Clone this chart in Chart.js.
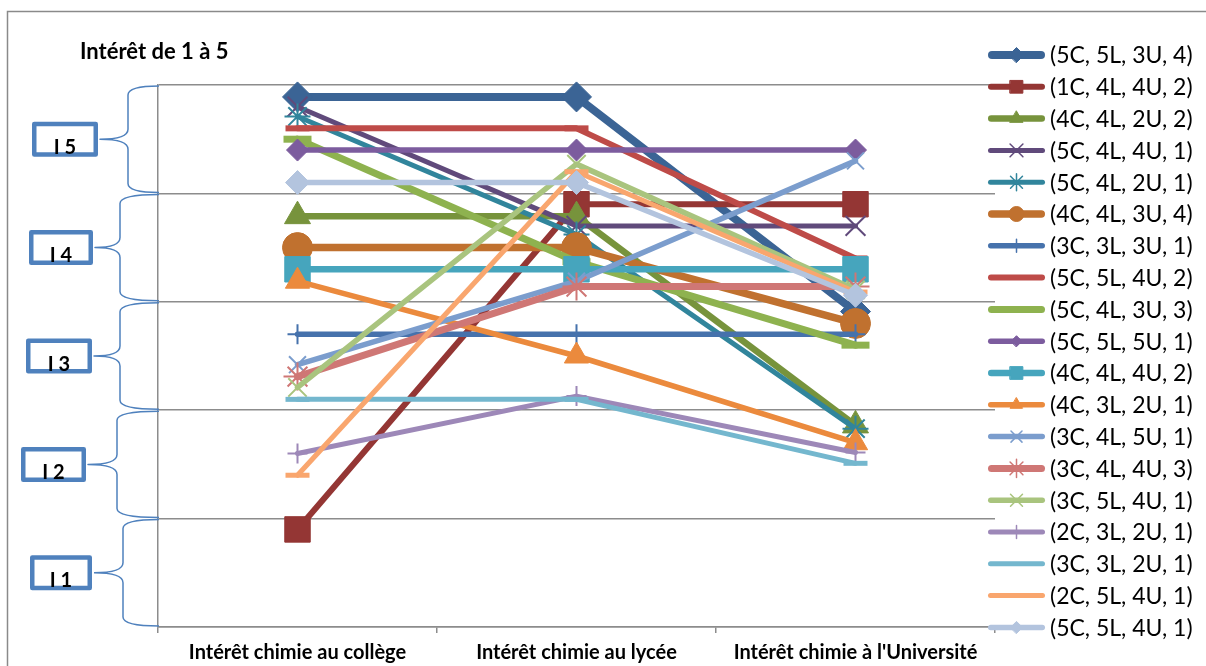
<!DOCTYPE html>
<html><head><meta charset="utf-8">
<script src="https://cdn.jsdelivr.net/npm/chart.js@4.4.1/dist/chart.umd.min.js"></script>
<style>html,body{margin:0;padding:0;background:#fff;overflow:hidden}canvas{display:block}</style>
</head><body>
<canvas id="c" width="1206" height="666"></canvas>
<script>
// ---- data ----
const chartTitle = "Intérêt de 1 à 5";
const categories = ["Intérêt chimie au collège", "Intérêt chimie au lycée", "Intérêt chimie à l'Université"];
const bandLabels = ["I 1", "I 2", "I 3", "I 4", "I 5"];
const seriesNames = ["(5C, 5L, 3U, 4)","(1C, 4L, 4U, 2)","(4C, 4L, 2U, 2)","(5C, 4L, 4U, 1)","(5C, 4L, 2U, 1)","(4C, 4L, 3U, 4)","(3C, 3L, 3U, 1)","(5C, 5L, 4U, 2)","(5C, 4L, 3U, 3)","(5C, 5L, 5U, 1)","(4C, 4L, 4U, 2)","(4C, 3L, 2U, 1)","(3C, 4L, 5U, 1)","(3C, 4L, 4U, 3)","(3C, 5L, 4U, 1)","(2C, 3L, 2U, 1)","(3C, 3L, 2U, 1)","(2C, 5L, 4U, 1)","(5C, 5L, 4U, 1)"];
const collegeValues    = [4.89, 0.90, 3.79, 4.80, 4.71, 3.50, 2.70, 4.60, 4.50, 4.40, 3.30, 3.19, 2.42, 2.31, 2.21, 1.60, 2.10, 1.40, 4.10];
const lyceeValues      = [4.89, 3.90, 3.79, 3.70, 3.62, 3.50, 2.70, 4.60, 3.37, 4.40, 3.30, 2.50, 3.19, 3.14, 4.27, 2.13, 2.10, 4.20, 4.10];
const universiteValues = [2.91, 3.90, 1.86, 3.70, 1.83, 2.80, 2.70, 3.40, 2.60, 4.40, 3.30, 1.70, 4.30, 3.14, 3.11, 1.61, 1.51, 3.09, 3.06];
const yMin = 0, yMax = 5, yStep = 1;

// ---- styles ----
const colors = ["#3B6495","#943634","#77933C","#604A7B","#31859C","#C0712F","#4672AC","#BE4B48","#8EB24F","#7C5C9E","#46A5BD","#EB8A3D","#7B9DCD","#CF7775","#A9C47E","#9D88B8","#74B7CE","#F9A66E","#B3C4DE"];
const markerStyles = ["rectRot","rect","triangle","crossRot","star","circle","cross","line","line","rectRot","rect","triangle","crossRot","star","crossRot","cross","line","line","rectRot"];
const markerRadii = [15,18,15,14,13,15,10,12,14,11,18,14,12,14,13,10,12,12,12];
const lineWidths = [8,6,6.5,5,5,7.5,5.5,6,7,5.5,6.5,5.5,5.5,7,5.5,5,5,5,5.5];
const filledStyles = ["rectRot","rect","triangle","circle"];
const gridColor = "#8c8c8c";
const braceColor = "#4F81BD";
const bandLayout = [ // box left, box right, brace vertical x
  [30, 92, 123], [21, 86, 117], [26, 92, 120], [29, 93, 120], [32, 98, 128]
];

const datasets = seriesNames.map((name, i) => {
  const filled = filledStyles.includes(markerStyles[i]);
  return {
    label: name,
    data: [collegeValues[i], lyceeValues[i], universiteValues[i]],
    borderColor: colors[i],
    backgroundColor: colors[i],
    borderWidth: lineWidths[i],
    borderCapStyle: 'round',
    borderJoinStyle: 'round',
    tension: 0,
    pointStyle: markerStyles[i],
    pointRadius: markerRadii[i],
    pointHoverRadius: markerRadii[i],
    pointBackgroundColor: colors[i],
    pointBorderColor: colors[i],
    pointBorderWidth: markerStyles[i] === 'line' ? lineWidths[i] : (filled ? 1 : 2),
    order: seriesNames.length - i,
    clip: false
  };
});

function fallbackPoint(ctx, style, r, x, y) {
  ctx.beginPath();
  if (style === 'circle') { ctx.arc(x, y, r, 0, Math.PI * 2); ctx.fill(); }
  else if (style === 'rect') { const s = r * Math.SQRT1_2; ctx.fillRect(x - s, y - s, 2 * s, 2 * s); }
  else if (style === 'rectRot') { ctx.moveTo(x, y - r); ctx.lineTo(x + r, y); ctx.lineTo(x, y + r); ctx.lineTo(x - r, y); ctx.closePath(); ctx.fill(); }
  else if (style === 'triangle') { ctx.moveTo(x, y - r); ctx.lineTo(x + r * 0.866, y + r / 2); ctx.lineTo(x - r * 0.866, y + r / 2); ctx.closePath(); ctx.fill(); }
  else {
    const d = r * Math.SQRT1_2;
    if (style === 'cross' || style === 'star') { ctx.moveTo(x - r, y); ctx.lineTo(x + r, y); ctx.moveTo(x, y - r); ctx.lineTo(x, y + r); }
    if (style === 'crossRot' || style === 'star') { ctx.moveTo(x - d, y - d); ctx.lineTo(x + d, y + d); ctx.moveTo(x + d, y - d); ctx.lineTo(x - d, y + d); }
    ctx.stroke();
  }
}

const decorPlugin = {
  id: 'decor',
  beforeDraw(chart) {
    const ctx = chart.ctx;
    ctx.save();
    ctx.fillStyle = '#fff';
    ctx.fillRect(0, 0, chart.width, chart.height);
    ctx.strokeStyle = '#8a8a8a';
    ctx.lineWidth = 1.5;
    ctx.strokeRect(7.5, 11.5, 1260, 720);
    ctx.fillStyle = '#000';
    ctx.font = 'bold 22px Lato';
    ctx.textBaseline = 'alphabetic';
    ctx.fillText(chartTitle, 80, 59);
    ctx.restore();
  },
  afterDraw(chart) {
    const ctx = chart.ctx;
    const ys = chart.scales.y;
    const xR = chart.chartArea.left;
    ctx.save();
    // braces and boxes
    bandLabels.forEach((lab, i) => {
      const yTop = ys.getPixelForValue(i + 1);
      const yBot = ys.getPixelForValue(i);
      const mid = (yTop + yBot) / 2;
      const [bl, br, xv] = bandLayout[i];
      const xTip = br + 2, r = 10;
      ctx.strokeStyle = braceColor;
      ctx.lineWidth = 1.5;
      ctx.beginPath();
      ctx.moveTo(xR + 1, yTop + 1);
      ctx.quadraticCurveTo(xv, yTop + 1, xv, yTop + r);
      ctx.lineTo(xv, mid - r);
      ctx.quadraticCurveTo(xv, mid, xTip, mid);
      ctx.quadraticCurveTo(xv, mid, xv, mid + r);
      ctx.lineTo(xv, yBot - r);
      ctx.quadraticCurveTo(xv, yBot - 1, xR + 1, yBot - 1);
      ctx.stroke();
      // box
      const bh = 35;
      ctx.lineWidth = 4.5;
      ctx.lineJoin = 'round';
      ctx.fillStyle = '#fff';
      ctx.fillRect(bl, mid - bh / 2, br - bl, bh);
      ctx.strokeRect(bl + 2.25, mid - bh / 2 + 2.25, br - bl - 4.5, bh - 4.5);
      ctx.fillStyle = '#000';
      ctx.font = 'bold 20px Lato';
      ctx.textAlign = 'center';
      ctx.textBaseline = 'alphabetic';
      ctx.fillText(lab, (bl + br) / 2, mid + bh / 2 - 3);
    });
    // legend
    const top = 55, step = 31.8, x0 = 988, x1 = 1045, tx = 1050;
    const H = Chart.helpers;
    chart.data.datasets.forEach((d, i) => {
      const y = top + i * step;
      ctx.save();
      ctx.strokeStyle = d.borderColor;
      ctx.lineWidth = d.borderWidth;
      ctx.lineCap = 'round';
      ctx.beginPath();
      ctx.moveTo(x0 + d.borderWidth / 2, y);
      ctx.lineTo(x1 - d.borderWidth / 2, y);
      ctx.stroke();
      if (d.pointStyle !== 'line') {
        const filled = filledStyles.includes(d.pointStyle);
        const r = d.pointRadius * (filled ? 0.5 : 0.65);
        ctx.fillStyle = d.pointBackgroundColor;
        ctx.strokeStyle = d.pointBorderColor;
        ctx.lineWidth = filled ? 1 : 1.5;
        if (H && H.drawPoint) {
          H.drawPoint(ctx, { pointStyle: d.pointStyle, radius: r, rotation: 0, borderWidth: ctx.lineWidth }, (x0 + x1) / 2, y);
        } else {
          fallbackPoint(ctx, d.pointStyle, r, (x0 + x1) / 2, y);
        }
      }
      ctx.fillStyle = '#000';
      ctx.font = '23px Lato';
      ctx.textAlign = 'left';
      ctx.textBaseline = 'middle';
      ctx.fillText(d.label, tx, y + 1);
      ctx.restore();
    });
    ctx.restore();
  }
};

new Chart(document.getElementById('c'), {
  type: 'line',
  data: { labels: categories, datasets: datasets },
  plugins: [decorPlugin],
  options: {
    responsive: false,
    animation: false,
    devicePixelRatio: 1,
    layout: { padding: { left: 158, right: 211, top: 85, bottom: 0 } },
    plugins: { legend: { display: false }, title: { display: false }, tooltip: { enabled: false } },
    scales: {
      x: {
        offset: true,
        grid: { display: true, offset: true, drawOnChartArea: false, drawTicks: true, tickLength: 6, color: gridColor, lineWidth: 1.5 },
        border: { display: true, color: gridColor, width: 1.5 },
        ticks: { color: '#000', font: { family: 'Lato', weight: 'bold', size: 20 }, padding: 8, maxRotation: 0, autoSkip: false },
        afterFit(scale) { scale.height = 39; }
      },
      y: {
        min: yMin, max: yMax,
        ticks: { display: false, stepSize: yStep },
        grid: { color: gridColor, lineWidth: 1.5, drawTicks: false },
        border: { display: true, color: gridColor, width: 1.5 },
        afterFit(scale) { scale.width = 0; }
      }
    }
  }
});
</script>
</body></html>
